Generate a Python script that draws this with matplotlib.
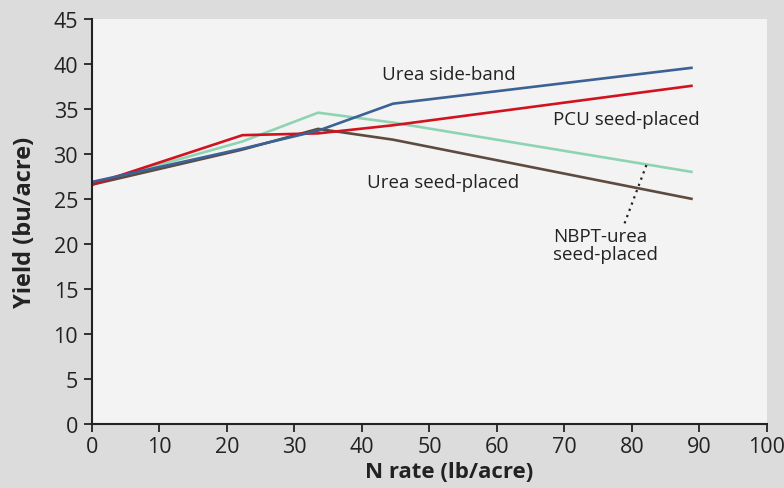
import matplotlib
matplotlib.use("Agg")
import matplotlib.pyplot as plt

n_rate = [0, 22.3, 33.5, 44.6, 89.0]
urea_side_band = [26.9, 30.6, 32.6, 35.6, 39.6]
pcu_seed = [26.6, 32.1, 32.3, 33.2, 37.6]
nbpt_seed = [26.7, 31.4, 34.6, 33.5, 28.0]
urea_seed = [26.6, 30.5, 32.8, 31.6, 25.0]

plt.rcParams['font.family'] = ['Open Sans', 'DejaVu Sans']

fig = plt.figure(figsize=(7.84, 4.89), dpi=100)
fig.patch.set_facecolor('#dcdcdc')
ax = fig.add_axes([0.1173, 0.1309, 0.861, 0.828])
ax.set_facecolor('#f3f3f3')

ax.plot(n_rate, nbpt_seed, color='#8fd4b2', lw=1.9, solid_capstyle='butt')
ax.plot(n_rate, urea_seed, color='#5e4b40', lw=1.9, solid_capstyle='butt')
ax.plot(n_rate, pcu_seed, color='#d2121e', lw=1.9, solid_capstyle='butt')
ax.plot(n_rate, urea_side_band, color='#3c6194', lw=1.9, solid_capstyle='butt')

ax.set_xlim(0, 100)
ax.set_ylim(0, 45)
ax.set_xticks(range(0, 101, 10))
ax.set_yticks(range(0, 46, 5))
for s in ['top', 'right']:
    ax.spines[s].set_visible(False)
for s in ['left', 'bottom']:
    ax.spines[s].set_color('#222222')
    ax.spines[s].set_linewidth(1.5)
ax.tick_params(axis='both', direction='out', length=6, width=1.3, colors='#222222',
               labelsize=15.5, labelcolor='#222222')
ax.tick_params(axis='x', pad=3)
ax.tick_params(axis='y', pad=4)

ax.set_xlabel('N rate (lb/acre)', fontsize=16, fontweight='bold', color='#222222')
ax.xaxis.set_label_coords(0.529, -0.092)
ax.set_ylabel('Yield (bu/acre)', fontsize=17, fontweight='bold', color='#222222')
ax.yaxis.set_label_coords(-0.082, 0.5)

fs = 13.5
ax.text(43.0, 38.9, 'Urea side-band', fontsize=fs, color='#222222', va='center', ha='left')
ax.text(68.3, 33.9, 'PCU seed-placed', fontsize=fs, color='#222222', va='center', ha='left')
ax.text(40.7, 26.9, 'Urea seed-placed', fontsize=fs, color='#222222', va='center', ha='left')
ax.text(68.3, 21.9, 'NBPT-urea\nseed-placed', fontsize=fs, color='#222222', va='top', ha='left',
        linespacing=1.0)
ax.plot([78.9, 82.2], [22.3, 28.9], color='#222222', lw=1.6, ls=(0, (1, 2)))

fig.savefig('out.png', dpi=100, facecolor=fig.get_facecolor())
